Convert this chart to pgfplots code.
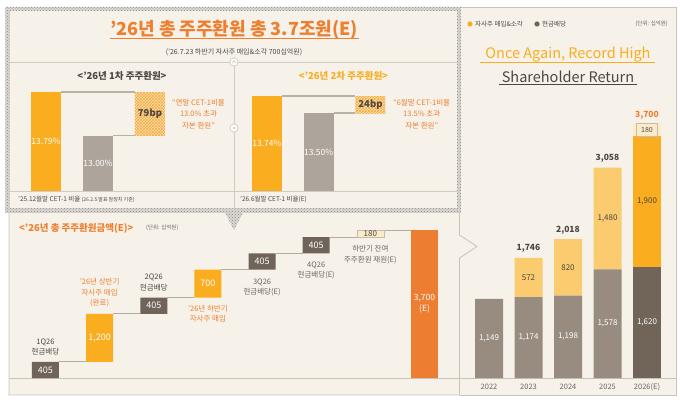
\documentclass[border=0pt]{standalone}
\usepackage{pgfplots}
\pgfplotsset{compat=1.18}
\usepackage{fontspec}
\setmainfont{Noto Sans CJK KR}
\usetikzlibrary{patterns}

\definecolor{bgbeige}{HTML}{F6F2EA}
\definecolor{framegray}{HTML}{C9C3BA}
\definecolor{linegray}{HTML}{D2CBC2}
\definecolor{steplink}{HTML}{B9B1A7}
\definecolor{hatchfill}{HTML}{DAD6D1}
\definecolor{hatchdot}{HTML}{8F8A84}
\definecolor{titleorange}{HTML}{EE7F2F}
\definecolor{golden}{HTML}{F9AD1F}
\definecolor{cetgray}{HTML}{ADA59B}
\definecolor{hatchbg}{HTML}{FDE2B4}
\definecolor{hatchline}{HTML}{F5A93C}
\definecolor{wfdark}{HTML}{6F635A}
\definecolor{totalorange}{HTML}{ED7D31}
\definecolor{reservefill}{HTML}{FCEBC9}
\definecolor{reserveedge}{HTML}{C8BBA8}
\definecolor{rgray}{HTML}{988C81}
\definecolor{rdark}{HTML}{716459}
\definecolor{rlight}{HTML}{FBCB70}
\definecolor{textdark}{HTML}{4E4640}
\definecolor{textgray}{HTML}{6E655D}
\definecolor{connector}{HTML}{B3ABA1}

\newcommand{\fnt}[2]{\fontsize{#1}{#2}\selectfont}

\pgfplotsset{
  placed/.style={anchor=south west, scale only axis, enlargelimits=false},
  cetA/.style={placed, at={(20pt,211pt)}, width=156pt, height=110.6pt,
    xmin=-0.5, xmax=2.5, ymin=12, ymax=14, hide axis},
  cetB/.style={placed, at={(241.1pt,211pt)}, width=155.25pt, height=113.3pt,
    xmin=-0.5, xmax=2.5, ymin=12.4, ymax=14, hide axis},
  wf/.style={placed, at={(18.4pt,24pt)}, width=433.2pt, height=160pt,
    xmin=-0.5, xmax=7.5, ymin=0, ymax=4000, hide axis},
  hist/.style={placed, at={(469.25pt,24pt)}, width=197.5pt, height=268.32pt,
    xmin=-0.5, xmax=4.5, ymin=0, ymax=3900},
  link/.style={mark=none, draw=#1, line width=1pt},
}
\tikzset{lbl/.style={inner sep=0pt, align=center}}

\begin{document}
\begin{tikzpicture}[x=1pt,y=1pt]
\useasboundingbox (0,0) rectangle (680,402);
\fill[white] (0,0) rectangle (680,402);

% ---------- frames ----------
\fill[bgbeige] (460,7) rectangle (676,395);
\draw[framegray, line width=0.7pt] (460,395) -- (676,395) -- (676,7) -- (460,7);
\fill[bgbeige] (9,7) rectangle (459.5,189);
\fill[bgbeige] (459.5,167) -- (477,155.5) -- (459.5,144) -- cycle;
\draw[framegray, line width=0.8pt] (9,189) -- (9,7) -- (459.5,7) -- (459.5,144)
  -- (477,155.5) -- (459.5,167) -- (459.5,189);
\draw[framegray, line width=0.8pt] (9,24) -- (676,24);

\fill[hatchfill] (5,189) rectangle (461,395);
\fill[pattern=crosshatch dots, pattern color=hatchdot] (5,189) rectangle (461,395);
\fill[bgbeige] (9.5,193.5) rectangle (456.5,390.5);
\fill[hatchfill] (223,193.5) -- (245,193.5) -- (234,172) -- cycle;
\fill[pattern=crosshatch dots, pattern color=hatchdot] (223,193.5) -- (245,193.5) -- (234,172) -- cycle;

\draw[linegray, line width=0.8pt] (9.5,340) -- (456.5,340);
\draw[linegray, line width=0.8pt] (234,340) -- (234,193.5);
\draw[linegray, line width=0.8pt] (9.5,211) -- (456.5,211);
\filldraw[fill=white, draw=framegray, line width=0.6pt] (234,340) circle (4.2);
\draw[framegray, line width=0.5pt] (232.3,338.9) -- (234,341.5) -- (235.7,338.9);
\filldraw[fill=white, draw=framegray, line width=0.6pt] (234,274) circle (4.2);
\fill[framegray] (234,274) circle (1.1);

% ---------- headings ----------
\node[lbl, text=titleorange, font=\bfseries\fnt{18}{20}] at (234,372) {’26년 총 주주환원 총 3.7조원(E)};
\draw[titleorange, line width=1pt] (110,363) -- (359,363);
\node[lbl, text=textdark, font=\fnt{7}{8}] at (234,350) {(’26.7.23 하반기 자사주 매입\&소각 700십억원)};

\node[lbl, text=textdark, font=\bfseries\fnt{9.5}{10}] at (122,326) {<’26년 1차 주주환원>};
\node[lbl, text=golden, font=\bfseries\fnt{9.5}{10}] at (343.5,326) {<’26년 2차 주주환원>};

\node[lbl, text=titleorange, font=\fnt{7.5}{11.5}] at (198.5,288) {“연말 CET-1비율\\13.0\% 초과\\자본 환원”};
\node[lbl, text=titleorange, font=\fnt{7.5}{11.5}] at (421.7,288) {“6월말 CET-1비율\\13.5\% 초과\\자본 환원”};

\node[lbl, anchor=west, text=textdark, font=\fnt{6.5}{7}] at (18,202.5) {’25.12월말 CET-1 비율 {\fnt{5}{6}(26.2.5 발표 잠정치 기준)}};
\node[lbl, anchor=west, text=textdark, font=\fnt{6.5}{7}] at (240,202.5) {’26.6월말 CET-1 비율(E)};

\node[lbl, anchor=west, text=titleorange, font=\bfseries\fnt{9.5}{10}] at (19,174) {<’26년 총 주주환원금액(E)>};
\node[lbl, anchor=west, text=textgray, font=\fnt{5.5}{6}] at (146,174) {(단위: 십억원)};

\fill[golden] (470,378) circle (2.6);
\node[lbl, anchor=west, text=textdark, font=\fnt{6.5}{7}] at (475,378) {자사주 매입\&소각};
\fill[rdark] (537,378) circle (2.6);
\node[lbl, anchor=west, text=textdark, font=\fnt{6.5}{7}] at (542,378) {현금배당};
\node[lbl, anchor=east, text=textgray, font=\fnt{5.5}{6}] at (668,378) {(단위: 십억원)};

\node[lbl, text=golden, font=\fnt{14.5}{16}] at (568,347) {Once Again, Record High};
\draw[golden, line width=0.9pt] (480,339.5) -- (655,339.5);
\node[lbl, text=textdark, font=\fnt{14.5}{16}] at (568,325) {Shareholder Return};
\draw[textdark, line width=0.9pt] (499,317.5) -- (637,317.5);

% ---------- 1st return: CET-1 ratios ----------
\begin{axis}[cetA, ybar stacked, bar width=30pt]
\addplot[fill=golden, draw=none] coordinates {(0,13.79) (1,0) (2,0)};
\addplot[fill=cetgray, draw=none] coordinates {(0,0) (1,13.00) (2,0)};
\addplot[fill=none, draw=none] coordinates {(0,0) (1,0) (2,13.00)};
\addplot[fill=hatchbg, draw=none, postaction={pattern=crosshatch, pattern color=hatchline}]
  coordinates {(0,0) (1,0) (2,0.79)};
\end{axis}
\begin{axis}[cetA, clip=false]
\addplot[link=steplink, line width=1.3pt] coordinates {(0.29,13.79) (1.71,13.79)};
\addplot[link=steplink, line width=1.3pt] coordinates {(1.29,13.00) (1.71,13.00)};
\node[lbl, text=white, font=\fnt{8.5}{9}] at (axis cs:0,12.895) {13.79\%};
\node[lbl, text=white, font=\fnt{8.5}{9}] at (axis cs:1,12.5) {13.00\%};
\node[lbl, text=textdark, font=\bfseries\fnt{9.5}{10}] at (axis cs:2,13.395) {79bp};
\end{axis}

% ---------- 2nd return: CET-1 ratios ----------
\begin{axis}[cetB, ybar stacked, bar width=30pt]
\addplot[fill=golden, draw=none] coordinates {(0,13.74) (1,0) (2,0)};
\addplot[fill=cetgray, draw=none] coordinates {(0,0) (1,13.50) (2,0)};
\addplot[fill=none, draw=none] coordinates {(0,0) (1,0) (2,13.50)};
\addplot[fill=hatchbg, draw=none, postaction={pattern=crosshatch, pattern color=hatchline}]
  coordinates {(0,0) (1,0) (2,0.24)};
\end{axis}
\begin{axis}[cetB, clip=false]
\addplot[link=steplink, line width=1.3pt] coordinates {(0.29,13.74) (1.71,13.74)};
\addplot[link=steplink, line width=1.3pt] coordinates {(1.29,13.50) (1.71,13.50)};
\node[lbl, text=white, font=\fnt{8.5}{9}] at (axis cs:0,13.07) {13.74\%};
\node[lbl, text=white, font=\fnt{8.5}{9}] at (axis cs:1,12.95) {13.50\%};
\node[lbl, text=textdark, font=\bfseries\fnt{9.5}{10}] at (axis cs:2,13.62) {24bp};
\end{axis}

% ---------- 2026 total return waterfall ----------
\begin{axis}[wf, ybar stacked, bar width=27pt]
\addplot[fill=none, draw=none] coordinates {(0,0) (1,405) (2,1605) (3,2010) (4,2710) (5,3115) (6,3520) (7,0)};
\addplot[fill=wfdark, draw=none] coordinates {(0,405) (1,0) (2,405) (3,0) (4,405) (5,405) (6,0) (7,0)};
\addplot[fill=golden, draw=none] coordinates {(0,0) (1,1200) (2,0) (3,700) (4,0) (5,0) (6,0) (7,0)};
\addplot[fill=reservefill, draw=none] coordinates {(0,0) (1,0) (2,0) (3,0) (4,0) (5,0) (6,180) (7,0)};
\addplot[fill=totalorange, draw=none] coordinates {(0,0) (1,0) (2,0) (3,0) (4,0) (5,0) (6,0) (7,3700)};
\end{axis}
\begin{axis}[wf, clip=false]
\addplot[link=connector] coordinates {(0.25,405) (0.75,405)};
\addplot[link=connector] coordinates {(1.25,1605) (1.75,1605)};
\addplot[link=connector] coordinates {(2.25,2010) (2.75,2010)};
\addplot[link=connector] coordinates {(3.25,2710) (3.75,2710)};
\addplot[link=connector] coordinates {(4.25,3115) (4.75,3115)};
\addplot[link=connector] coordinates {(5.25,3520) (5.75,3520)};
\addplot[link=connector] coordinates {(6.25,3700) (6.75,3700)};
\addplot[mark=none, draw=reserveedge, line width=0.6pt]
  coordinates {(5.75,3520) (6.25,3520) (6.25,3700) (5.75,3700) (5.75,3520)};
\node[lbl, text=white, font=\fnt{9}{10}] at (axis cs:0,202.5) {405};
\node[lbl, text=white, font=\fnt{9}{10}] at (axis cs:1,1005) {1,200};
\node[lbl, text=white, font=\fnt{9}{10}] at (axis cs:2,1807.5) {405};
\node[lbl, text=white, font=\fnt{9}{10}] at (axis cs:3,2360) {700};
\node[lbl, text=white, font=\fnt{9}{10}] at (axis cs:4,2912.5) {405};
\node[lbl, text=white, font=\fnt{9}{10}] at (axis cs:5,3317.5) {405};
\node[lbl, text=textdark, font=\fnt{8}{9}] at (axis cs:6,3610) {180};
\node[lbl, text=white, font=\fnt{8.5}{11}] at (axis cs:7,1850) {3,700\\(E)};
\node[lbl, anchor=south, yshift=6.5pt, text=textdark, font=\fnt{7.5}{10.5}] at (axis cs:0,405) {1Q26\\현금배당};
\node[lbl, anchor=south, yshift=6.5pt, text=titleorange, font=\fnt{7.5}{10.5}] at (axis cs:1,1605) {’26년 상반기\\자사주 매입\\(완료)};
\node[lbl, anchor=south, yshift=6.5pt, text=textdark, font=\fnt{7.5}{10.5}] at (axis cs:2,2010) {2Q26\\현금배당};
\node[lbl, anchor=north, yshift=-7pt, text=titleorange, font=\fnt{7.5}{10.5}] at (axis cs:3,2010) {’26년 하반기\\자사주 매입};
\node[lbl, anchor=north, yshift=-9pt, text=textgray, font=\fnt{7.5}{10.5}] at (axis cs:4,2710) {3Q26\\현금배당(E)};
\node[lbl, anchor=north, yshift=-8pt, text=textgray, font=\fnt{7.5}{10.5}] at (axis cs:5,3115) {4Q26\\현금배당(E)};
\node[lbl, anchor=north, yshift=-8pt, text=textgray, font=\fnt{7.5}{10.5}] at (axis cs:6,3520) {하반기 잔여\\주주환원 재원(E)};
\end{axis}

% ---------- yearly shareholder return ----------
\begin{axis}[hist, ybar stacked, bar width=28pt,
  axis line style={draw=none}, tick style={draw=none}, major tick length=0pt,
  ytick=\empty, xtick={0,1,2,3,4}, xticklabels={2022,2023,2024,2025,2026(E)},
  xticklabel style={font=\fnt{7.5}{8}, text=textgray, anchor=center, yshift=-9pt}]
\addplot[fill=rgray, draw=none] coordinates {(0,1149) (1,1174) (2,1198) (3,1578) (4,0)};
\addplot[fill=rdark, draw=none] coordinates {(0,0) (1,0) (2,0) (3,0) (4,1620)};
\addplot[fill=rlight, draw=none] coordinates {(0,0) (1,572) (2,820) (3,1480) (4,0)};
\addplot[fill=golden, draw=none] coordinates {(0,0) (1,0) (2,0) (3,0) (4,1900)};
\addplot[fill=reservefill, draw=none] coordinates {(0,0) (1,0) (2,0) (3,0) (4,180)};
\end{axis}
\begin{axis}[hist, hide axis, clip=false]
\addplot[mark=none, draw=reserveedge, line width=0.6pt]
  coordinates {(3.74,3520) (4.26,3520) (4.26,3700) (3.74,3700) (3.74,3520)};
\node[lbl, text=white, font=\fnt{8}{9}] at (axis cs:0,574.5) {1,149};
\node[lbl, text=white, font=\fnt{8}{9}] at (axis cs:1,587) {1,174};
\node[lbl, text=white, font=\fnt{8}{9}] at (axis cs:2,599) {1,198};
\node[lbl, text=white, font=\fnt{8}{9}] at (axis cs:3,789) {1,578};
\node[lbl, text=white, font=\fnt{8}{9}] at (axis cs:4,810) {1,620};
\node[lbl, text=textdark, font=\fnt{8}{9}] at (axis cs:1,1460) {572};
\node[lbl, text=textdark, font=\fnt{8}{9}] at (axis cs:2,1608) {820};
\node[lbl, text=textdark, font=\fnt{8}{9}] at (axis cs:3,2318) {1,480};
\node[lbl, text=textdark, font=\fnt{8}{9}] at (axis cs:4,2570) {1,900};
\node[lbl, text=textdark, font=\fnt{7}{8}] at (axis cs:4,3610) {180};
\node[lbl, anchor=south, yshift=5pt, text=textdark, font=\bfseries\fnt{8.5}{9}] at (axis cs:1,1746) {1,746};
\node[lbl, anchor=south, yshift=5pt, text=textdark, font=\bfseries\fnt{8.5}{9}] at (axis cs:2,2018) {2,018};
\node[lbl, anchor=south, yshift=5pt, text=textdark, font=\bfseries\fnt{8.5}{9}] at (axis cs:3,3058) {3,058};
\node[lbl, anchor=south, yshift=3.5pt, text=titleorange, font=\bfseries\fnt{8.5}{9}] at (axis cs:4,3700) {3,700};
\end{axis}
\end{tikzpicture}
\end{document}
